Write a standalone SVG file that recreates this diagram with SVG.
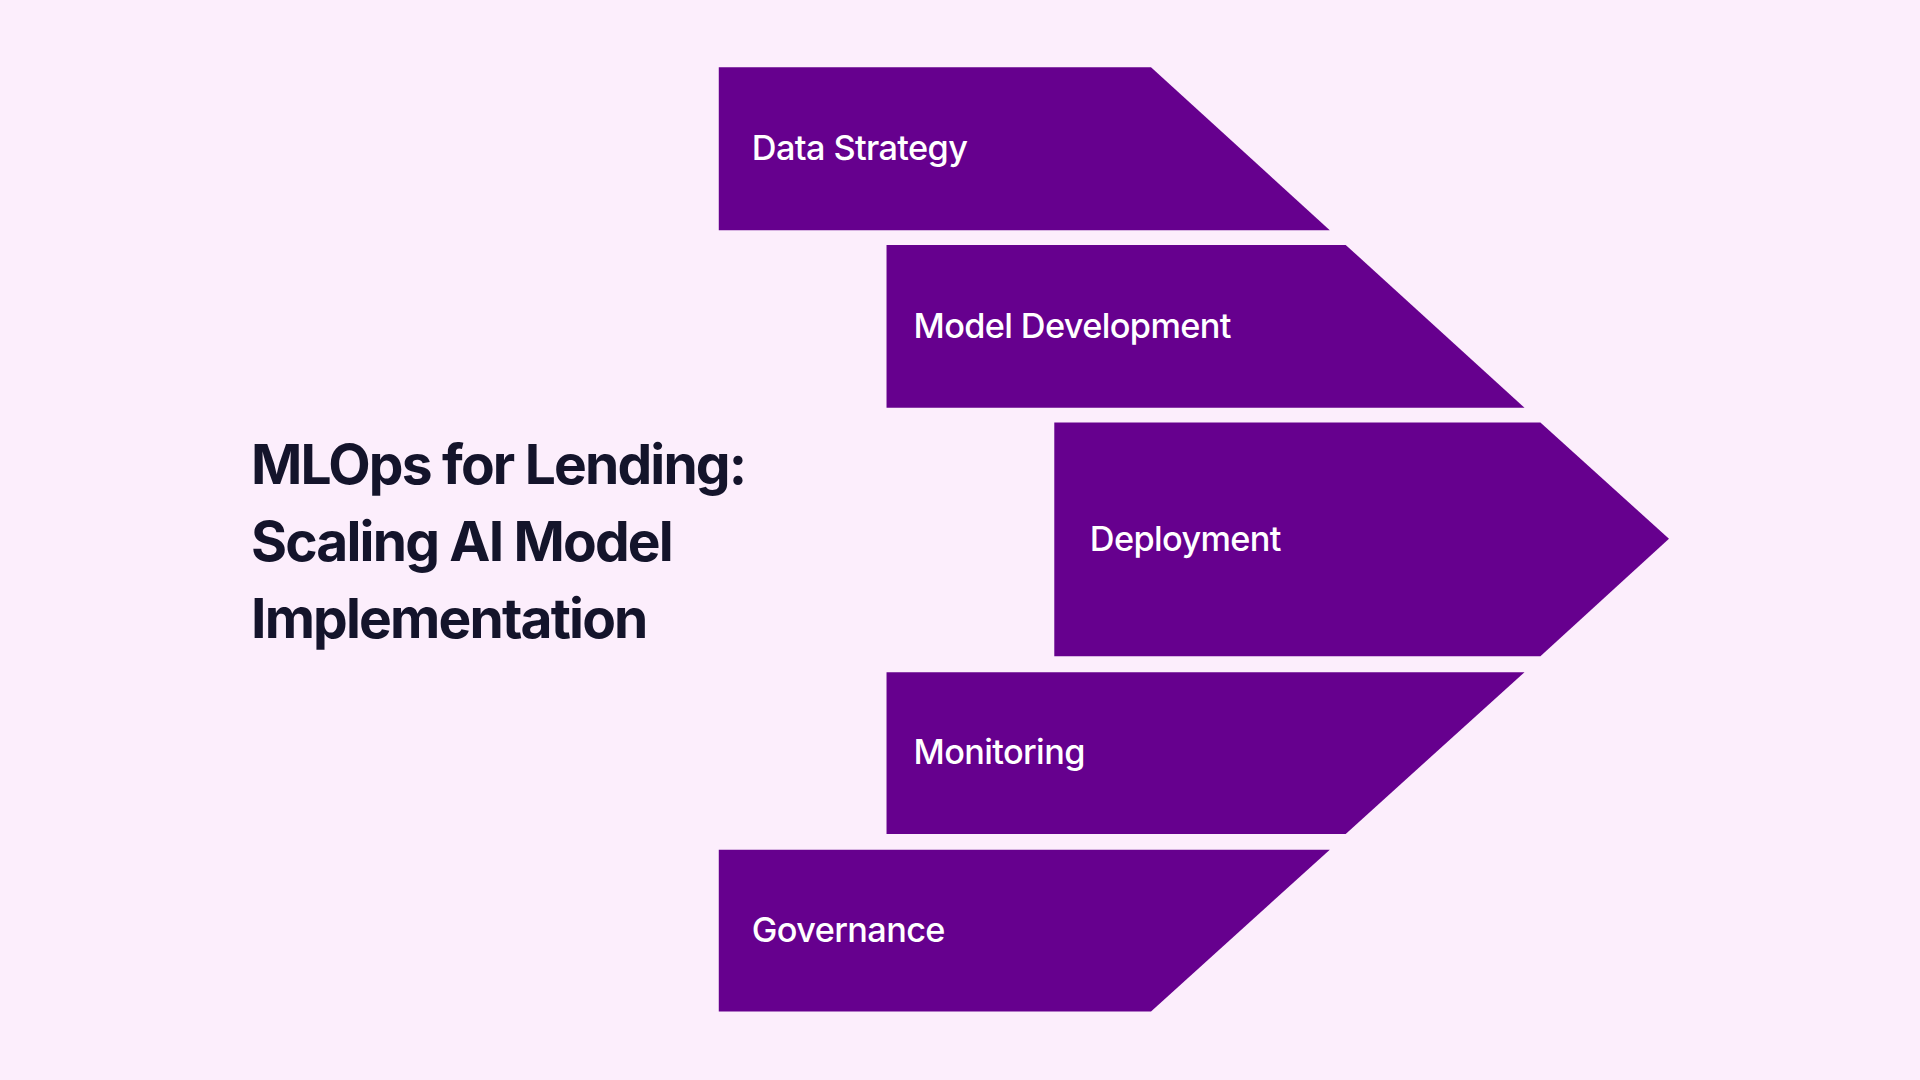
<svg xmlns="http://www.w3.org/2000/svg" width="1920" height="1080" viewBox="0 0 1920 1080">
<style>
.s{fill:#66008E}
.l{font-family:Inter,"Liberation Sans",sans-serif;font-size:28px;font-weight:500;fill:#FFFFFF;letter-spacing:-0.5px}
.t{font-family:Inter,"Liberation Sans",sans-serif;font-size:45px;font-weight:700;fill:#14142B;letter-spacing:-1.5px}
</style>
<rect width="1920" height="1080" fill="#FCEEFC"/>
<g transform="scale(1.22449)">
<g id="title">
<text class="t" x="205" y="395">MLOps for Lending:</text>
<text class="t" x="205" y="458">Scaling AI Model</text>
<text class="t" x="205" y="521">Implementation</text>
</g>
<g id="data-strategy"><polygon class="s" points="587,55 940,55 1086,188 587,188"/><text class="l" x="614" y="131">Data Strategy</text></g>
<g id="model-development"><polygon class="s" points="724,200 1099,200 1245,333 724,333"/><text class="l" x="746" y="276">Model Development</text></g>
<g id="deployment"><polygon class="s" points="861,345 1258,345 1363,440 1258,536 861,536"/><text class="l" x="890" y="450">Deployment</text></g>
<g id="monitoring"><polygon class="s" points="724,549 1245,549 1099,681 724,681"/><text class="l" x="746" y="624">Monitoring</text></g>
<g id="governance"><polygon class="s" points="587,694 1086,694 940,826 587,826"/><text class="l" x="614" y="769">Governance</text></g>
<g id="connectors"/>
</g>
</svg>
